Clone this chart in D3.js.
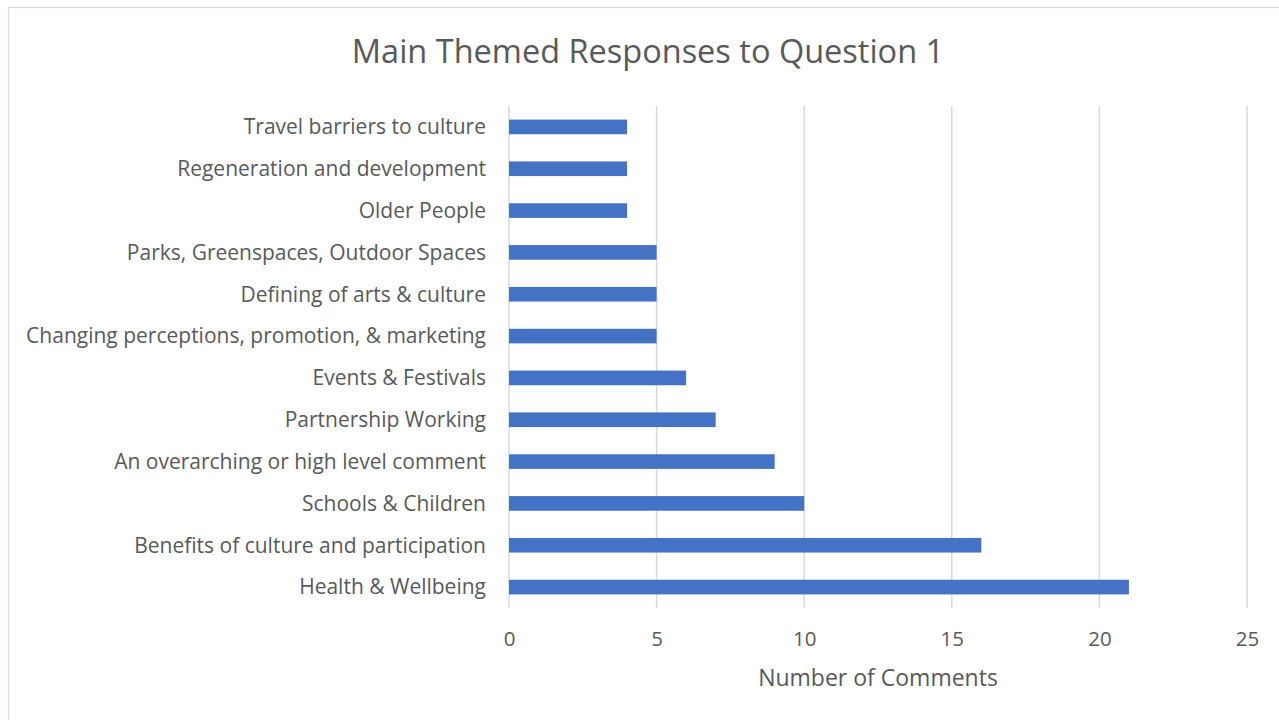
<!DOCTYPE html>
<html>
<head>
<meta charset="utf-8">
<script src="https://cdn.jsdelivr.net/npm/d3@7"></script>
<style>
  html, body { margin: 0; padding: 0; background: #ffffff; }
  svg { display: block; }
  text { font-family: "Open Sans", "Noto Sans", sans-serif; fill: #595959; }
</style>
</head>
<body>
<script>
// Themes, listed bottom to top as they appear in the chart
const categories = [
  "Health & Wellbeing",
  "Benefits of culture and participation",
  "Schools & Children",
  "An overarching or high level comment",
  "Partnership Working",
  "Events & Festivals",
  "Changing perceptions, promotion, & marketing",
  "Defining of arts & culture",
  "Parks, Greenspaces, Outdoor Spaces",
  "Older People",
  "Regeneration and development",
  "Travel barriers to culture"
];
const comments = [21, 16, 10, 9, 7, 6, 5, 5, 5, 4, 4, 4];
const xTicks = [0, 5, 10, 15, 20, 25];

const chartTitle = "Main Themed Responses to Question 1";
const xAxisTitle = "Number of Comments";

const width = 1279, height = 720;
const plot = { left: 509, right: 1247, top: 106, bottom: 608 };

const svg = d3.select("body").append("svg")
  .attr("width", width)
  .attr("height", height);

// chart frame
svg.append("rect")
  .attr("x", 8.5).attr("y", 7.5)
  .attr("width", width + 10).attr("height", height + 10)
  .attr("fill", "#ffffff")
  .attr("stroke", "#d9d9d9")
  .attr("stroke-width", 1.2);

const x = d3.scaleLinear()
  .domain([0, 25])
  .range([plot.left, plot.right]);

// first category at the bottom
const y = d3.scaleBand()
  .domain(categories)
  .range([plot.bottom, plot.top])
  .paddingInner(0.65)
  .paddingOuter(0.325);

// vertical gridlines
svg.append("g")
  .selectAll("line")
  .data(xTicks)
  .join("line")
  .attr("x1", d => x(d)).attr("x2", d => x(d))
  .attr("y1", plot.top).attr("y2", plot.bottom)
  .attr("stroke", "#d9d9d9")
  .attr("stroke-width", 1.5);

// bars
svg.append("g")
  .selectAll("rect")
  .data(categories.map((c, i) => ({ c, v: comments[i] })))
  .join("rect")
  .attr("x", x(0))
  .attr("y", d => y(d.c))
  .attr("width", d => x(d.v) - x(0))
  .attr("height", y.bandwidth())
  .attr("fill", "#4472c4");

// x axis tick labels
const xAxis = d3.axisBottom(x).tickValues(xTicks).tickSize(0).tickPadding(0);
const gx = svg.append("g")
  .attr("transform", `translate(0, ${plot.bottom})`)
  .call(xAxis);
gx.select(".domain").remove();
gx.selectAll("text")
  .attr("dy", null)
  .attr("y", 38)
  .style("font-size", "20.5px")
  .attr("fill", "#595959");

// category labels
const yAxis = d3.axisLeft(y).tickSize(0).tickPadding(0);
const gy = svg.append("g")
  .attr("transform", `translate(486, 0)`)
  .call(yAxis);
gy.select(".domain").remove();
gy.selectAll("text")
  .attr("dy", "0.35em")
  .attr("x", 0)
  .style("font-size", "21px")
  .attr("fill", "#595959");

// title
svg.append("text")
  .attr("x", 648).attr("y", 63)
  .attr("text-anchor", "middle")
  .style("font-size", "32.5px")
  .text(chartTitle);

// axis title
svg.append("text")
  .attr("x", (plot.left + plot.right) / 2).attr("y", 686)
  .attr("text-anchor", "middle")
  .style("font-size", "23px")
  .text(xAxisTitle);
</script>
</body>
</html>
